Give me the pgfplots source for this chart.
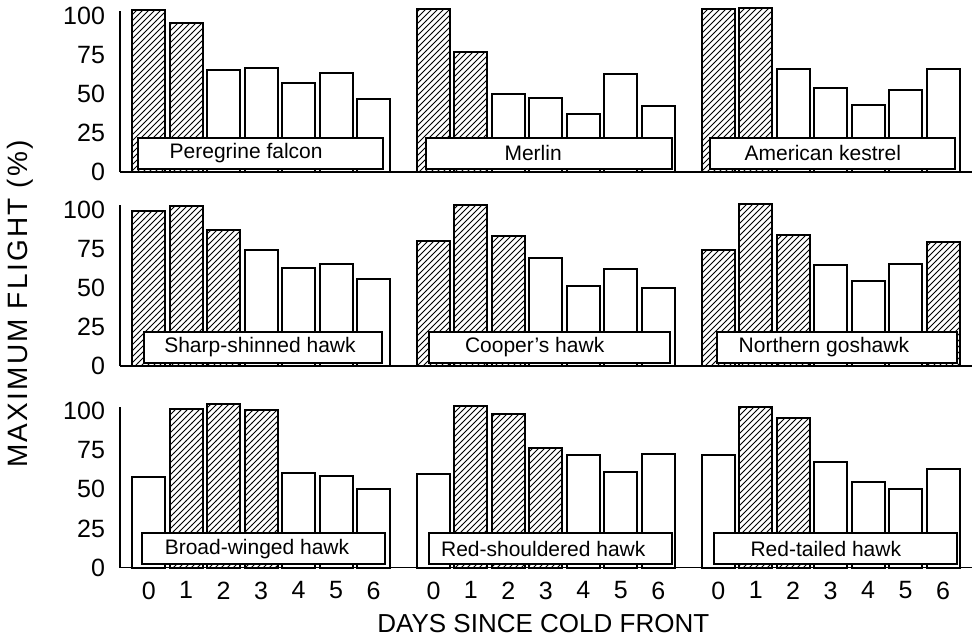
\documentclass[border=0pt]{standalone}
\usepackage{fontspec}
\setmainfont{Liberation Sans}
\newfontfamily\ylabfont[LetterSpace=8]{Liberation Sans}
\usepackage{pgfplots}
\pgfplotsset{compat=1.18}
\usetikzlibrary{patterns}

\pgfplotsset{
  rowaxis/.style={
    scale only axis, x=18.735pt, y=0.7815pt,
    xmin=-0.766, xmax=21.97, ymin=0, ymax=103,
    axis x line=bottom, axis y line=left,
    axis line style={-, line width=0.9pt},
    ytick={0,25,50,75,100},
    major tick length=0pt,
    /pgf/number format/assume math mode=true,
    yticklabel style={font=\fontsize{12.5}{14}\selectfont, xshift=-4pt},
    xticklabel style={font=\fontsize{12.5}{14}\selectfont, yshift=-3.5pt},
    xtick=\empty,
    ybar, bar width=0.88,
    clip=false,
    anchor=south west,
  },
  plain/.style={draw=black, fill=white, line width=1pt, bar shift=0pt},
  hatch/.style={draw=black, pattern=north east lines, line width=1pt, bar shift=0pt},
}
\tikzset{
  lblbox/.style={draw=black, fill=white, line width=1pt},
  lbltxt/.style={font=\fontsize{10.5}{12}\selectfont, inner sep=0pt},
}

\begin{document}
\begin{tikzpicture}
\path[use as bounding box] (0,0) rectangle (489.5pt,-319.5pt);

% Row 1
\begin{axis}[rowaxis, at={(60pt,-86pt)}]
\addplot[hatch] coordinates {(0,103.5) (1,95.1) (7.6,104.5) (8.6,77.0) (15.2,104.1) (16.2,105.2)};
\addplot[plain] coordinates {(2,65.1) (3,66.8) (4,57.2) (5,63.4) (6,47.0)
  (9.6,50.2) (10.6,47.2) (11.6,36.9) (12.6,63.0) (13.6,42.2)
  (17.2,66.2) (18.2,53.7) (19.2,43.1) (20.2,52.5) (21.2,66.2)};
\draw[lblbox] (axis cs:-0.29,2) rectangle (axis cs:6.25,21.8);
\node[lbltxt] at (axis cs:2.6,11.9) {Peregrine falcon};
\draw[lblbox] (axis cs:7.41,2) rectangle (axis cs:13.96,21.8);
\node[lbltxt] at (axis cs:10.26,11.9) {Merlin};
\draw[lblbox] (axis cs:14.97,2) rectangle (axis cs:21.51,21.8);
\node[lbltxt] at (axis cs:17.99,11.9) {American kestrel};
\end{axis}

% Row 2
\begin{axis}[rowaxis, at={(60pt,-183pt)}]
\addplot[hatch] coordinates {(0,99.2) (1,102.4) (2,87.0) (7.6,80) (8.6,103) (9.6,83.5)
  (15.2,74) (16.2,103.5) (17.2,84) (21.2,79.5)};
\addplot[plain] coordinates {(3,74.0) (4,63.0) (5,65.1) (6,55.9)
  (10.6,69) (11.6,51) (12.6,62) (13.6,50)
  (18.2,64.5) (19.2,54.5) (20.2,65)};
\draw[lblbox] (axis cs:-0.13,2) rectangle (axis cs:6.23,21.8);
\node[lbltxt] at (axis cs:2.97,11.9) {Sharp-shinned hawk};
\draw[lblbox] (axis cs:7.48,2) rectangle (axis cs:13.92,21.8);
\node[lbltxt] at (axis cs:10.3,11.9) {Cooper's hawk};
\draw[lblbox] (axis cs:15.16,2) rectangle (axis cs:21.57,21.8);
\node[lbltxt] at (axis cs:18.02,11.9) {Northern goshawk};
\end{axis}

% Row 3
\begin{axis}[rowaxis, at={(60pt,-283.75pt)},
  xtick={0,1,2,3,4,5,6,7.6,8.6,9.6,10.6,11.6,12.6,13.6,15.2,16.2,17.2,18.2,19.2,20.2,21.2},
  xticklabels={0,1,2,3,4,5,6,0,1,2,3,4,5,6,0,1,2,3,4,5,6}]
\addplot[hatch] coordinates {(1,101.5) (2,104.5) (3,100.6) (8.6,103.4) (9.6,97.9) (10.6,76.6)
  (16.2,102.6) (17.2,95.5)};
\addplot[plain] coordinates {(0,57.6) (4,60.3) (5,58.6) (6,50.3)
  (7.6,60.1) (11.6,71.9) (12.6,61.2) (13.6,72.9)
  (15.2,72.1) (18.2,67.2) (19.2,55.0) (20.2,50.3) (21.2,63.1)};
\draw[lblbox] (axis cs:-0.17,2) rectangle (axis cs:6.31,21.8);
\node[lbltxt] at (axis cs:2.89,11.9) {Broad-winged hawk};
\draw[lblbox] (axis cs:7.48,2) rectangle (axis cs:13.97,21.8);
\node[lbltxt] at (axis cs:10.53,11.9) {Red-shouldered hawk};
\draw[lblbox] (axis cs:15.08,2) rectangle (axis cs:21.56,21.8);
\node[lbltxt] at (axis cs:18.07,11.9) {Red-tailed hawk};
\end{axis}

\node[rotate=90, font=\ylabfont\fontsize{14}{16}\selectfont] at (10pt,-152pt) {MAXIMUM FLIGHT (\%)};
\node[font=\fontsize{13}{15}\selectfont] at (271.65pt,-311.65pt) {DAYS SINCE COLD FRONT};
\end{tikzpicture}
\end{document}
